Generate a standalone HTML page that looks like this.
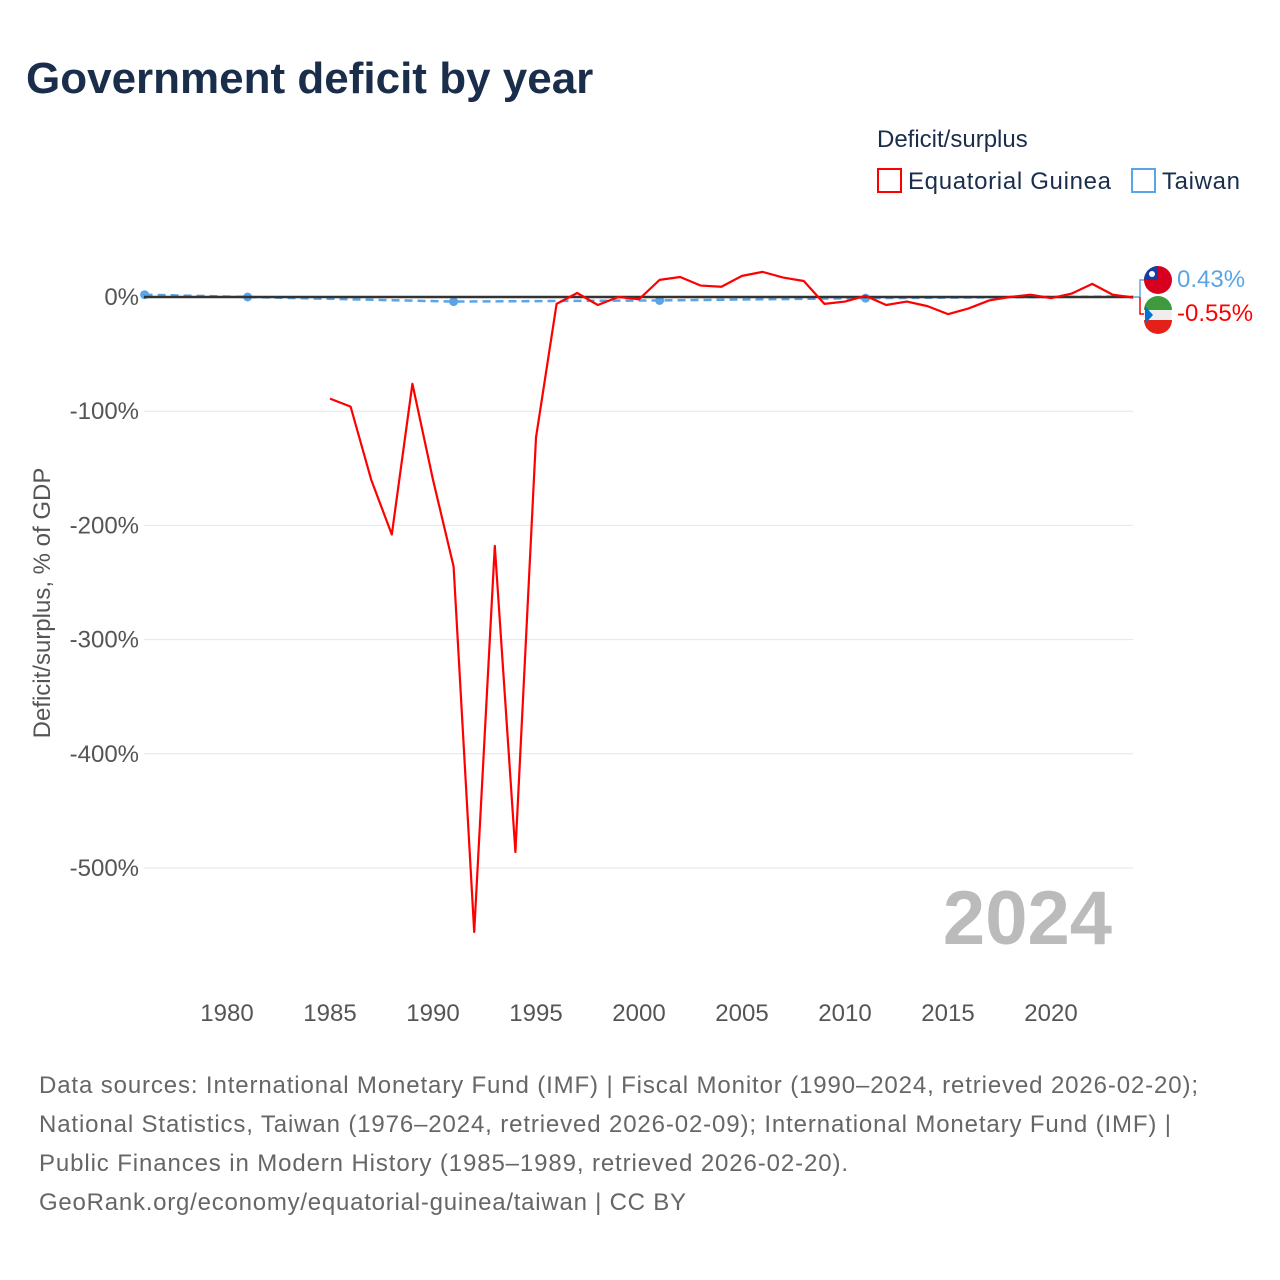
<!DOCTYPE html>
<html><head><meta charset="utf-8">
<style>
body{margin:0;background:#fff;font-family:"Liberation Sans",sans-serif;}
#wrap{position:relative;width:1280px;height:1280px;overflow:hidden;}
</style></head>
<body>
<div id="wrap">
<svg id="chart" width="1280" height="1280" xmlns="http://www.w3.org/2000/svg">
<text x="26" y="93" font-size="44" font-weight="bold" fill="#1a2e4c">Government deficit by year</text>
<text x="877" y="147" font-size="24" fill="#1a2e4c">Deficit/surplus</text>
<g>
<rect x="878" y="169" width="23" height="23" fill="none" stroke="#f00" stroke-width="2"/>
<text x="908" y="189" font-size="24" fill="#1a2e4c" textLength="203">Equatorial Guinea</text></g>
<g>
<rect x="1132" y="169" width="23" height="23" fill="none" stroke="#5aa5e8" stroke-width="2"/>
<text x="1162" y="189" font-size="24" fill="#1a2e4c" textLength="78">Taiwan</text></g>
<g id="grid"></g>
<g id="xticks"></g>
<text transform="translate(50,603) rotate(-90)" text-anchor="middle" font-size="24" fill="#555">Deficit/surplus, % of GDP</text>
<text x="1112" y="944" text-anchor="end" font-size="76" font-weight="bold" fill="#bbb">2024</text>
<g id="series"></g>
<g>
<path d="M1133 297 H1140 V280 H1146" fill="none" stroke="#5aa5e8" stroke-width="1.5"/>
<path d="M1140 297 V314 H1146" fill="none" stroke="#f00" stroke-width="1.5"/>
<g>
<circle cx="1158" cy="280" r="14" fill="#d7001e"/><path d="M1144 280 A14 14 0 0 1 1158 266 V280 Z" fill="#1440a0"/><circle cx="1152" cy="274" r="3" fill="#fff"/></g>
<g>
<circle cx="1158" cy="315" r="14" fill="#eee"/><path d="M1144 310 A14 14 0 0 1 1172 310 Z" fill="#3e9a3e"/><path d="M1144 320 H1172 A14 14 0 0 1 1144 320 Z" fill="#e32118"/><path d="M1145 306 L1153 315 L1145 324 Z" fill="#0073ce"/></g>
<text x="1177" y="287" font-size="24" fill="#5aa5e8">0.43%</text>
<text x="1177" y="321" font-size="24" fill="#f00">-0.55%</text>
</g>
<g font-size="24" fill="#666">
<text x="39" y="1093" textLength="1159">Data sources: International Monetary Fund (IMF) | Fiscal Monitor (1990–2024, retrieved 2026-02-20);</text>
<text x="39" y="1132" textLength="1132">National Statistics, Taiwan (1976–2024, retrieved 2026-02-09); International Monetary Fund (IMF) |</text>
<text x="39" y="1171" textLength="809">Public Finances in Modern History (1985–1989, retrieved 2026-02-20).</text>
<text x="39" y="1210" textLength="647">GeoRank.org/economy/equatorial-guinea/taiwan | CC BY</text>
</g>
</svg>
</div>
<script>
const eqYears=[1985,1986,1987,1988,1989,1990,1991,1992,1993,1994,1995,1996,1997,1998,1999,2000,2001,2002,2003,2004,2005,2006,2007,2008,2009,2010,2011,2012,2013,2014,2015,2016,2017,2018,2019,2020,2021,2022,2023,2024];
const eqValues=[-89,-96,-160,-208,-76,-160,-236,-556,-218,-486,-123,-6,3.5,-7,0,-2,15,17.5,10,9,18.5,22,17,14,-6,-4,1,-7,-4,-8,-15,-10,-3,0,2,-1,3,11.5,2,-0.55];
const twYears=[1976,1981,1991,2001,2011,2024];
const twValues=[2,0,-4,-3,-1,0.43];
const twDots=[1976,1981,1991,2001,2011];
const yTicks=[0,-100,-200,-300,-400,-500];
const xTicks=[1980,1985,1990,1995,2000,2005,2010,2015,2020];
const X=y=>144.6+(y-1976)*20.6;
const Y=v=>297-v*1.142;
const NS="http://www.w3.org/2000/svg";
function mk(t,a,p){const e=document.createElementNS(NS,t);for(const k in a)e.setAttribute(k,a[k]);p.appendChild(e);return e;}
const grid=document.getElementById('grid');
yTicks.forEach(v=>{
 const l=mk('line',{x1:144,x2:1133,y1:Y(v),y2:Y(v),stroke:'#e6e6e6','stroke-width':1},grid);
 
 
 const t=mk('text',{x:139,y:Y(v)+8,'text-anchor':'end','font-size':24,fill:'#555'},grid);
 t.textContent=v+'%';
 
 
});
const xt=document.getElementById('xticks');
xTicks.forEach(y=>{
 const t=mk('text',{x:X(y),y:1021,'text-anchor':'middle','font-size':24,fill:'#555'},xt);
 t.textContent=y;
 
 
});
const s=document.getElementById('series');
const tw=mk('path',{d:twYears.map((y,i)=>(i?'L':'M')+X(y)+' '+Y(twValues[i])).join(' '),fill:'none',stroke:'#5aa5e8','stroke-width':2.5,'stroke-dasharray':'8 5'},s);


twDots.forEach(y=>{
 const i=twYears.indexOf(y);
 const c=mk('circle',{cx:X(y),cy:Y(twValues[i]),r:4.5,fill:'#5aa5e8'},s);
 
 
});
const zl=mk('line',{x1:144,x2:1133,y1:Y(0),y2:Y(0),stroke:'#333','stroke-width':2.5},s);


const eq=mk('path',{d:eqYears.map((y,i)=>(i?'L':'M')+X(y)+' '+Y(eqValues[i])).join(' '),fill:'none',stroke:'#f00','stroke-width':2.2,'stroke-linejoin':'round'},s);


</script>
</body></html>
